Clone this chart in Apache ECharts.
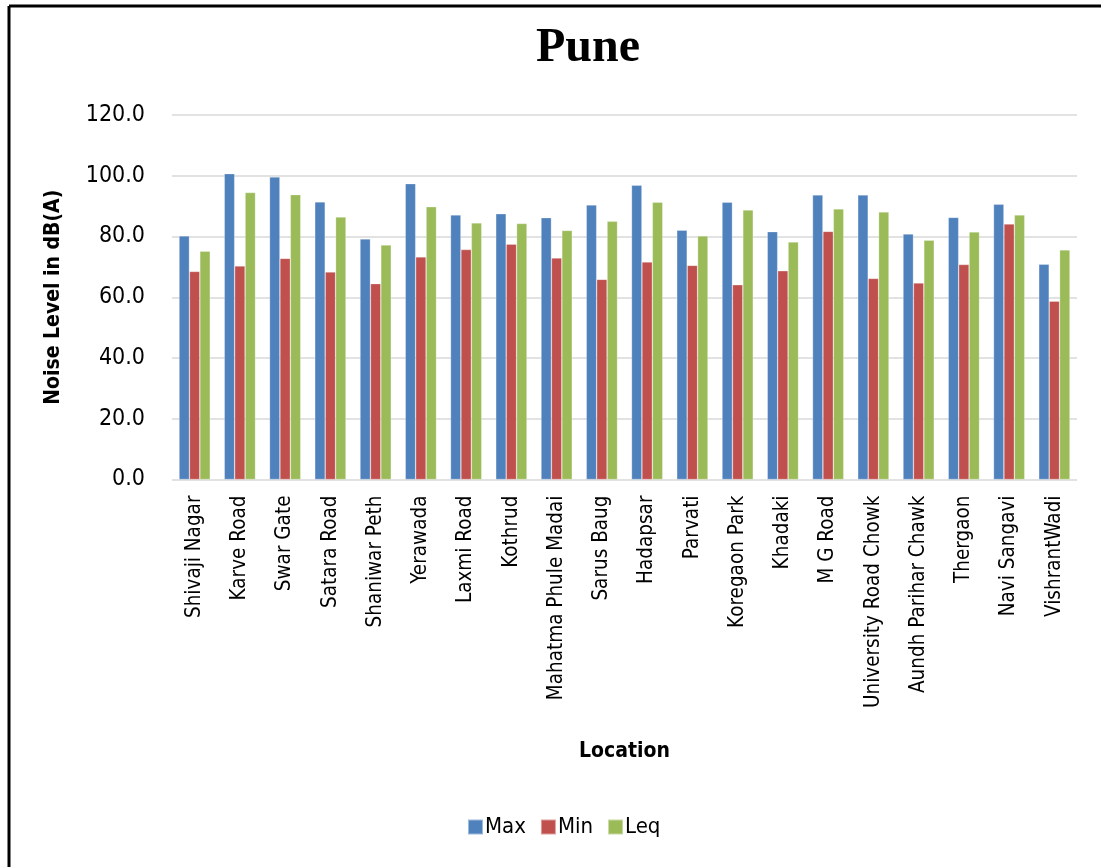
<!DOCTYPE html>
<html>
<head>
<meta charset="utf-8">
<script src="https://cdn.jsdelivr.net/npm/echarts@6/dist/echarts.min.js"></script>
<style>html,body{margin:0;padding:0;background:#fff;}#c{width:1101px;height:867px;}</style>
</head>
<body>
<div id="c"></div>
<script>
const categories = ["Shivaji Nagar","Karve Road","Swar Gate","Satara Road","Shaniwar Peth","Yerawada","Laxmi Road","Kothrud","Mahatma Phule Madai","Sarus Baug","Hadapsar","Parvati","Koregaon Park","Khadaki","M G Road","University Road Chowk","Aundh Parihar Chawk","Thergaon","Navi Sangavi","VishrantWadi"];
const maxValues = [80.2,100.7,99.6,91.4,79.2,97.4,87.1,87.5,86.2,90.4,96.9,82.1,91.3,81.6,93.7,93.7,80.8,86.3,90.6,70.9];
const minValues = [68.5,70.3,72.8,68.3,64.5,73.3,75.7,77.5,72.9,65.9,71.6,70.5,64.1,68.7,81.7,66.2,64.7,70.8,84.1,58.7];
const leqValues = [75.2,94.5,93.8,86.4,77.2,89.8,84.5,84.3,82.0,85.0,91.3,80.2,88.7,78.2,89.1,88.1,78.8,81.5,87.1,75.6];
const yTicks = [0,20,40,60,80,100,120];

const narrow = '"Liberation Sans Narrow","DejaVu Sans Condensed","Roboto Condensed",sans-serif';
const chart = echarts.init(document.getElementById('c'));
const mk = (name, data, color) => ({
  name, type: 'bar', data,
  barGap: '0%', barCategoryGap: '31%',
  itemStyle: { color, borderColor: 'rgba(255,255,255,0.45)', borderWidth: 0.6 }
});
chart.setOption({
  animation: false,
  backgroundColor: '#fff',
  title: {
    text: 'Pune', left: 531, top: 20,
    textStyle: { fontFamily: '"Liberation Serif","Times New Roman",serif', fontWeight: 'bold', fontSize: 48, color: '#000' }
  },
  graphic: [
    { type: 'line', shape: { x1: 9, y1: 6, x2: 1101, y2: 6 }, style: { stroke: '#000', lineWidth: 3 } },
    { type: 'line', shape: { x1: 9, y1: 6, x2: 9, y2: 867 }, style: { stroke: '#000', lineWidth: 3 } }
  ],
  legend: {
    data: ['Max','Min','Leq'], bottom: 24, left: 462,
    itemWidth: 15, itemHeight: 15, itemGap: 14,
    icon: 'rect',
    textStyle: { fontFamily: narrow, fontSize: 22, color: '#000', padding: [0,0,0,-3] }
  },
  grid: { left: 172, right: 24, top: 115, bottom: 387.5 },
  xAxis: {
    type: 'category', data: categories,
    name: 'Location', nameLocation: 'middle', nameGap: 262,
    nameTextStyle: { fontFamily: narrow, fontWeight: 'bold', fontSize: 21, color: '#000' },
    axisLine: { show: false }, axisTick: { show: false },
    axisLabel: { rotate: 90, margin: 16, fontFamily: narrow, fontSize: 20.5, color: '#000', interval: 0 }
  },
  yAxis: {
    type: 'value', min: 0, max: 120, interval: 20,
    name: 'Noise Level in dB(A)', nameLocation: 'middle', nameGap: 108,
    nameTextStyle: { fontFamily: narrow, fontWeight: 'bold', fontSize: 21, color: '#000' },
    axisLine: { show: false }, axisTick: { show: false },
    axisLabel: { margin: 27, fontFamily: narrow, fontSize: 23, color: '#000',
      formatter: v => yTicks.includes(v) ? v.toFixed(1) : '' },
    splitLine: { lineStyle: { color: '#d9d9d9', width: 1.5 } }
  },
  series: [
    mk('Max', maxValues, '#4F81BD'),
    mk('Min', minValues, '#C0504D'),
    mk('Leq', leqValues, '#9BBB59')
  ]
});
</script>
</body>
</html>
